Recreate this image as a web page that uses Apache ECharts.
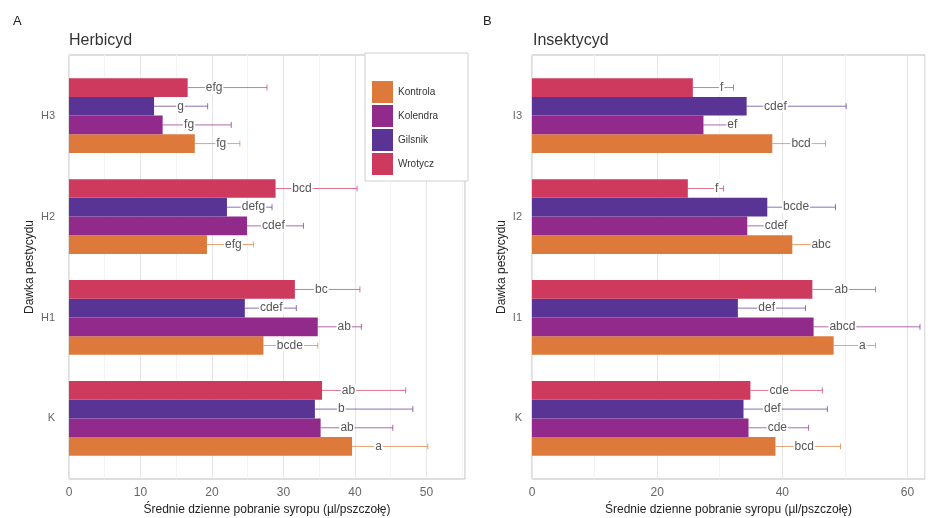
<!DOCTYPE html>
<html>
<head>
<meta charset="utf-8">
<script src="https://cdn.jsdelivr.net/npm/echarts@6/dist/echarts.min.js"></script>
<style>
  html, body { margin: 0; padding: 0; background: #fff; }
  #chart { width: 930px; height: 518px; }
</style>
</head>
<body>
<div id="chart"></div>
<script>
// categories, bottom to top
var herbCats = ['K', 'H1', 'H2', 'H3'];
var insCats = ['K', 'I1', 'I2', 'I3'];
var extracts = ['Kontrola', 'Kolendra', 'Gilsnik', 'Wrotycz'];

// herbicyd: rows = extracts, cols = K, H1, H2, H3
var herbMeans = [
  [39.6, 27.2, 19.3, 17.6],
  [35.2, 34.8, 24.9, 13.1],
  [34.4, 24.6, 22.1, 11.9],
  [35.4, 31.6, 28.9, 16.6]
];
var herbSE = [
  [10.6, 7.6, 6.5, 6.3],
  [10.1, 6.1, 7.9, 9.6],
  [13.7, 7.2, 6.3, 7.5],
  [11.7, 9.1, 11.4, 11.1]
];
var herbLetters = [
  ['a', 'bcde', 'efg', 'fg'],
  ['ab', 'ab', 'cdef', 'fg'],
  ['b', 'cdef', 'defg', 'g'],
  ['ab', 'bc', 'bcd', 'efg']
];

// insektycyd: rows = extracts, cols = K, I1, I2, I3
var insMeans = [
  [38.9, 48.2, 41.6, 38.4],
  [34.6, 45.0, 34.4, 27.4],
  [33.8, 32.9, 37.6, 34.3],
  [34.9, 44.8, 24.9, 25.7]
];
var insSE = [
  [10.4, 6.7, 3.0, 8.5],
  [9.6, 17.0, 4.1, 4.1],
  [13.4, 10.8, 10.9, 15.9],
  [11.5, 10.1, 5.7, 6.5]
];
var insLetters = [
  ['bcd', 'a', 'abc', 'bcd'],
  ['cde', 'abcd', 'cdef', 'ef'],
  ['def', 'def', 'bcde', 'cdef'],
  ['cde', 'ab', 'f', 'f']
];

var colors = ['#dd7a3b', '#922a8b', '#5a3494', '#cd3a5d'];
var groupW = 0.74;
var barH = groupW / 4;
var font = 'Liberation Sans, Arial, sans-serif';

function makeSeries(k, means, ses, letters, idx, nudge) {
  var data = means.map(function (m, i) { return [m, i + 1, ses[i]]; });
  return {
    type: 'custom',
    name: extracts[k],
    xAxisIndex: idx,
    yAxisIndex: idx,
    itemStyle: { color: colors[k] },
    encode: { x: 0, y: 1 },
    data: data,
    renderItem: function (params, api) {
      var m = api.value(0), c = api.value(1), se = api.value(2);
      var yc = c - groupW / 2 + barH * (k + 0.5);
      var top = api.coord([0, yc + barH / 2]);
      var bot = api.coord([m, yc - barH / 2]);
      var mid = api.coord([m, yc]);
      var end = api.coord([m + se, yc]);
      var lab = api.coord([m + nudge, yc]);
      return {
        type: 'group',
        children: [
          { type: 'rect', shape: { x: top[0], y: top[1], width: bot[0] - top[0], height: bot[1] - top[1] },
            style: { fill: colors[k] } },
          { type: 'line', shape: { x1: mid[0], y1: mid[1], x2: end[0], y2: end[1] },
            style: { stroke: colors[k], lineWidth: 1, opacity: 0.7 } },
          { type: 'line', shape: { x1: end[0], y1: end[1] - 3, x2: end[0], y2: end[1] + 3 },
            style: { stroke: colors[k], lineWidth: 1, opacity: 0.7 } },
          { type: 'text', x: lab[0], y: lab[1],
            style: { text: letters[params.dataIndex], align: 'center', verticalAlign: 'middle',
                     fill: '#555', font: '12px ' + font, backgroundColor: '#fff', padding: [0, 1] } }
        ]
      };
    }
  };
}

var series = [];
for (var k = 0; k < 4; k++) {
  series.push(makeSeries(k, herbMeans[k], herbSE[k], herbLetters[k], 0, 3.7));
}
for (var k2 = 0; k2 < 4; k2++) {
  series.push(makeSeries(k2, insMeans[k2], insSE[k2], insLetters[k2], 1, 4.6));
}

function xAxis(idx, max, step, labelStep) {
  return {
    type: 'value', gridIndex: idx, min: 0, max: max, interval: step,
    name: 'Średnie dzienne pobranie syropu (µl/pszczołę)',
    nameLocation: 'middle', nameGap: 25,
    nameTextStyle: { color: '#222', fontSize: 12, fontFamily: font },
    axisLine: { show: false }, axisTick: { show: false },
    axisLabel: { color: '#666', fontSize: 12, fontFamily: font, margin: 8, showMaxLabel: false,
      formatter: function (v) { return v % labelStep === 0 ? v : ''; } },
    splitLine: { show: true, lineStyle: { color: ['#e6e6e6', '#f3f3f3'], width: 1 } }
  };
}

function yAxis(idx, cats, gap, margin) {
  return {
    type: 'value', gridIndex: idx, min: 0.4, max: 4.6,
    name: 'Dawka pestycydu', nameLocation: 'middle', nameRotate: 90, nameGap: gap,
    nameTextStyle: { color: '#222', fontSize: 12, fontFamily: font },
    axisLine: { show: false }, axisTick: { show: false }, splitLine: { show: false },
    axisLabel: { color: '#666', fontSize: 11, fontFamily: font, margin: margin,
      customValues: [1, 2, 3, 4],
      formatter: function (v) { return cats[Math.round(v) - 1]; } }
  };
}

var chart = echarts.init(document.getElementById('chart'), null, { renderer: 'canvas' });
chart.setOption({
  backgroundColor: '#fff',
  animation: false,
  title: [
    { text: 'A', left: 8, top: 10, textStyle: { fontSize: 13, fontWeight: 'normal', color: '#222', fontFamily: font } },
    { text: 'Herbicyd', left: 64, top: 28, textStyle: { fontSize: 16, fontWeight: 'normal', color: '#333', fontFamily: font } },
    { text: 'B', left: 478, top: 10, textStyle: { fontSize: 13, fontWeight: 'normal', color: '#222', fontFamily: font } },
    { text: 'Insektycyd', left: 528, top: 28, textStyle: { fontSize: 16, fontWeight: 'normal', color: '#333', fontFamily: font } }
  ],
  grid: [
    { left: 69, top: 55, width: 396, height: 424, show: true, borderColor: '#bdbdbd', borderWidth: 1,
      backgroundColor: '#fff', outerBoundsMode: 'none', containLabel: false },
    { left: 532, top: 55, width: 393, height: 424, show: true, borderColor: '#bdbdbd', borderWidth: 1,
      backgroundColor: '#fff', outerBoundsMode: 'none', containLabel: false }
  ],
  xAxis: [xAxis(0, 55.4, 5, 10), xAxis(1, 62.8, 10, 20)],
  yAxis: [yAxis(0, herbCats, 33, 14), yAxis(1, insCats, 24, 10)],
  legend: {
    data: extracts, orient: 'vertical', left: 365, top: 53,
    padding: [28, 30, 6, 7], itemGap: 2, itemWidth: 21, itemHeight: 22, icon: 'rect',
    backgroundColor: '#fff', borderColor: '#cfcfcf', borderWidth: 1,
    textStyle: { color: '#333', fontSize: 10, fontFamily: font }
  },
  graphic: [
    { type: 'text', left: 372, top: 61, style: { text: 'Ekstrakt', fill: '#333', font: '12px ' + font } }
  ],
  series: series
});
</script>
</body>
</html>
